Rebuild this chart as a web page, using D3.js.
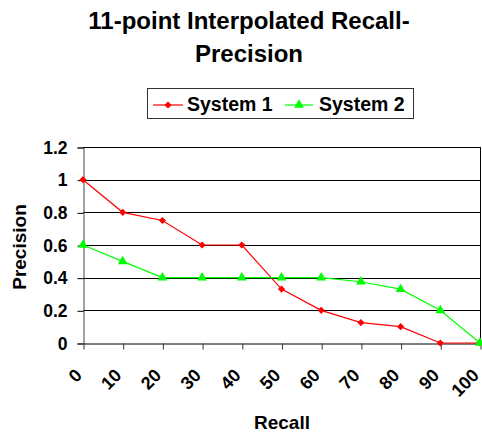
<!DOCTYPE html>
<html>
<head>
<meta charset="utf-8">
<script src="https://cdn.jsdelivr.net/npm/d3@7"></script>
<style>
  html, body { margin: 0; padding: 0; background: #fff; }
  svg { display: block; font-family: "Liberation Sans", Arial, Helvetica, sans-serif; font-weight: bold; }
</style>
</head>
<body>
<svg id="chart" width="482" height="434"></svg>
<script>
// Recall levels (percent) and interpolated precision per system
const recallLevels = ["0", "10", "20", "30", "40", "50", "60", "70", "80", "90", "100"];
const system1 = [1, 0.8, 0.75, 0.6, 0.6, 0.33, 0.2, 0.125, 0.1, 0, 0];
const system2 = [0.6, 0.5, 0.4, 0.4, 0.4, 0.4, 0.4, 0.375, 0.33, 0.2, 0];
const yTicks = [0, 0.2, 0.4, 0.6, 0.8, 1, 1.2];
const seriesNames = ["System 1", "System 2"];
const seriesColors = ["#ff0000", "#00ff00"];
const titleLines = ["11-point Interpolated Recall-", "Precision"];

const svg = d3.select("#chart");
const plot = { left: 83, right: 480, top: 147, bottom: 343 };

const x = d3.scalePoint().domain(recallLevels).range([plot.left, plot.right]);
const y = d3.scaleLinear().domain([0, 1.2]).range([plot.bottom, plot.top]);

// Title
svg.append("g").selectAll("text").data(titleLines).join("text")
  .attr("x", 249)
  .attr("y", (d, i) => 29 + i * 32.5)
  .attr("text-anchor", "middle")
  .style("font-size", "24px")
  .text(d => d);

// Horizontal gridlines
svg.append("g").selectAll("line").data(yTicks.filter(t => t > 0)).join("line")
  .attr("x1", plot.left).attr("x2", plot.right + 1)
  .attr("y1", d => Math.round(y(d)) + 0.5).attr("y2", d => Math.round(y(d)) + 0.5)
  .attr("stroke", "#000").attr("stroke-width", 1);

// Right frame edge
svg.append("line")
  .attr("x1", plot.right + 0.5).attr("x2", plot.right + 0.5)
  .attr("y1", Math.round(y(1.2)) + 0.5).attr("y2", plot.bottom)
  .attr("stroke", "#000");

// Y axis
const yAxis = svg.append("g")
  .attr("transform", `translate(${plot.left + 0.5},0.5)`)
  .call(d3.axisLeft(y).tickValues(yTicks).tickSize(6).tickPadding(10).tickFormat(d3.format("")));
yAxis.select(".domain").attr("stroke", "#444");
yAxis.selectAll(".tick line").attr("stroke", "#000");
yAxis.selectAll(".tick text")
  .style("font-size", "17.5px").style("font-family", null).attr("fill", "#000");

// X axis
const xAxis = svg.append("g")
  .attr("transform", `translate(0.5,${plot.bottom + 0.5})`)
  .call(d3.axisBottom(x).tickSize(6).tickSizeOuter(0).tickFormat(d => d));
xAxis.select(".domain").attr("stroke", "#000");
xAxis.selectAll(".tick line").attr("stroke", "#333");
xAxis.selectAll(".tick text")
  .style("font-size", "18px").style("font-family", null).attr("fill", "#000")
  .attr("text-anchor", "end")
  .attr("x", 0).attr("y", 0).attr("dy", 0)
  .attr("transform", "translate(-1,33) rotate(-45)");

// Axis titles
svg.append("text")
  .attr("x", 282).attr("y", 429)
  .attr("text-anchor", "middle")
  .style("font-size", "19px")
  .text("Recall");
svg.append("text")
  .attr("transform", "translate(26,247) rotate(-90)")
  .attr("text-anchor", "middle")
  .style("font-size", "19px")
  .text("Precision");

// Series lines and markers
const diamond = d3.symbol().type(d3.symbolSquare).size(26);
const triangle = d3.symbol().type(d3.symbolTriangle).size(42);
const series = [system1, system2];
const symbols = [diamond, triangle];
const rotations = [45, 0];
const line = d3.line().x((d, i) => x(recallLevels[i])).y(d => y(d));

series.forEach((vals, s) => {
  svg.append("path")
    .datum(vals)
    .attr("d", line)
    .attr("fill", "none")
    .attr("stroke", seriesColors[s])
    .attr("stroke-width", 1.2);
  svg.append("g").selectAll("path").data(vals).join("path")
    .attr("transform", (d, i) => `translate(${x(recallLevels[i])},${y(d)}) rotate(${rotations[s]})`)
    .attr("d", symbols[s])
    .attr("fill", seriesColors[s]);
});

// Legend
const legend = svg.append("g");
legend.append("rect")
  .attr("x", 147.5).attr("y", 88.5).attr("width", 266).attr("height", 30)
  .attr("fill", "#fff").attr("stroke", "#333").attr("stroke-width", 1);
const legendItems = [
  { x0: 153, x1: 183, tx: 187 },
  { x0: 285, x1: 313, tx: 319 }
];
legendItems.forEach((it, s) => {
  legend.append("line")
    .attr("x1", it.x0).attr("x2", it.x1).attr("y1", 105).attr("y2", 105)
    .attr("stroke", seriesColors[s]).attr("stroke-width", 1.2);
  legend.append("path")
    .attr("transform", `translate(${(it.x0 + it.x1) / 2},105) rotate(${rotations[s]})`)
    .attr("d", symbols[s]).attr("fill", seriesColors[s]);
  legend.append("text")
    .attr("x", it.tx).attr("y", 111)
    .style("font-size", "19.5px")
    .text(seriesNames[s]);
});
</script>
</body>
</html>
